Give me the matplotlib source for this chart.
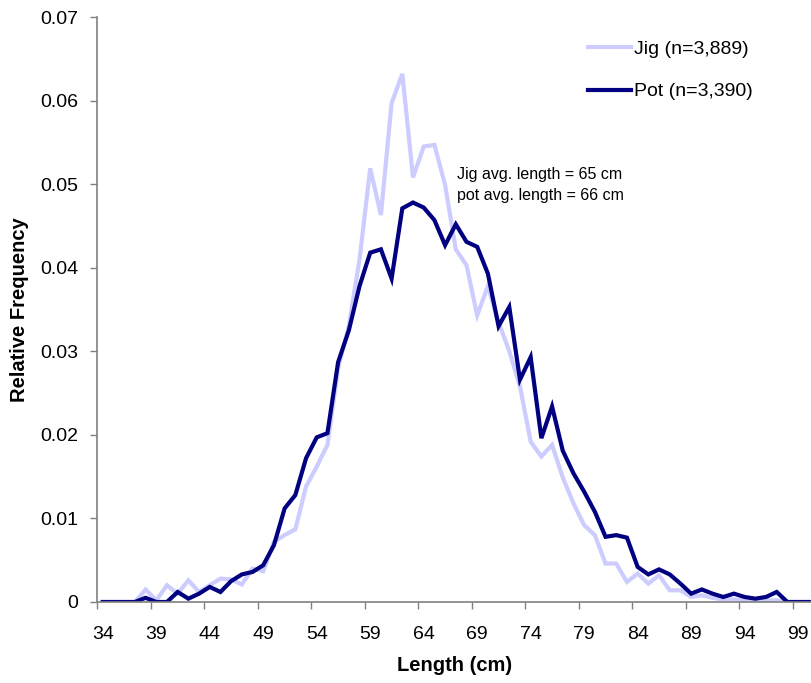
import numpy as np
import matplotlib
matplotlib.use("Agg")
import matplotlib.pyplot as plt

plt.rcParams['font.family'] = ['Liberation Sans', 'DejaVu Sans']

# length classes (cm)
lengths = list(range(34, 101))

jig = [0, 0, 0, 0, 0.0015, 0.0002, 0.002, 0.001, 0.0026, 0.0012,
       0.002, 0.0028, 0.0027, 0.0021, 0.004, 0.0037, 0.0072, 0.008, 0.0087, 0.0138,
       0.0162, 0.0188, 0.028, 0.033, 0.041, 0.0519, 0.0463, 0.0597, 0.0632, 0.0508,
       0.0545, 0.0547, 0.0499, 0.0422, 0.0403, 0.0343, 0.0378, 0.0335, 0.0300, 0.0258,
       0.0192, 0.0174, 0.0188, 0.0149, 0.0118, 0.0092, 0.008, 0.0046, 0.0046, 0.0024,
       0.0034, 0.0022, 0.0032, 0.0014, 0.0014, 0.0006, 0.0008, 0.0005, 0.0003, 0.0003,
       0.0002, 0.0002, 0.0002, 0.0002, 0, 0, 0]

pot = [0, 0, 0, 0, 0.0005, 0, 0, 0.0012, 0.0004, 0.001,
       0.0018, 0.0012, 0.0025, 0.0033, 0.0036, 0.0044, 0.0068, 0.0112, 0.0128, 0.0172,
       0.0197, 0.0202, 0.0287, 0.0325, 0.0378, 0.0418, 0.0422, 0.0387, 0.0471, 0.0478,
       0.0472, 0.0457, 0.0427, 0.0452, 0.0431, 0.0425, 0.0393, 0.0330, 0.0353, 0.0266,
       0.0293, 0.0196, 0.0234, 0.0181, 0.0154, 0.0132, 0.0108, 0.0078, 0.0080, 0.0077,
       0.0042, 0.0033, 0.0039, 0.0033, 0.0022, 0.0010, 0.0015, 0.0010, 0.0006, 0.0010,
       0.0006, 0.0004, 0.0006, 0.0012, 0, 0, 0]

x_labels = list(range(34, 100, 5))
y_ticks = [0, 0.01, 0.02, 0.03, 0.04, 0.05, 0.06, 0.07]
y_labels = ['0', '0.01', '0.02', '0.03', '0.04', '0.05', '0.06', '0.07']

fig = plt.figure(figsize=(8.12, 6.83), dpi=100)
ax = fig.add_axes([0.120, 0.1186, 0.880, 0.8565])

ax.plot(lengths, jig, color='#CCCCFF', lw=3.0, label='Jig (n=3,889)', solid_joinstyle='miter')
ax.plot(lengths, pot, color='#000080', lw=3.0, label='Pot (n=3,390)', solid_joinstyle='miter')

ax.set_xlim(33.5, 100.3)
ax.set_ylim(0, 0.07)

# labels sit on the categories, tick marks fall between them
ax.set_xticks(x_labels)
ax.set_xticklabels([str(v) for v in x_labels])
ax.set_xticks([v - 0.5 for v in x_labels], minor=True)
ax.tick_params(axis='x', which='major', length=0, pad=17, labelsize=14)
ax.tick_params(axis='x', which='minor', length=5, width=1, color='#808080', direction='out')

ax.set_yticks(y_ticks)
ax.set_yticklabels(y_labels)
ax.tick_params(axis='y', length=5, width=1, color='#808080', direction='out', pad=9, labelsize=14)

for s in ['top', 'right']:
    ax.spines[s].set_visible(False)
for s in ['left', 'bottom']:
    ax.spines[s].set_color('#808080')
    ax.spines[s].set_linewidth(1.2)

ax.set_xlabel('Length (cm)', fontsize=14.5, fontweight='bold', labelpad=10)
ax.set_ylabel('Relative Frequency', fontsize=14.5, fontweight='bold', labelpad=8)

ax.legend(loc='upper left', bbox_to_anchor=(588 / 812, 1 - 40 / 683), bbox_transform=fig.transFigure,
          frameon=False, fontsize=14, handlelength=2.2, handletextpad=0.15,
          labelspacing=1.3, borderpad=0, borderaxespad=0)

fig.text(457 / 812, 1 - 167 / 683, 'Jig avg. length = 65 cm\npot avg. length = 66 cm',
         fontsize=11.5, va='top', ha='left', linespacing=1.5)

fig.savefig('out.png', dpi=100)
